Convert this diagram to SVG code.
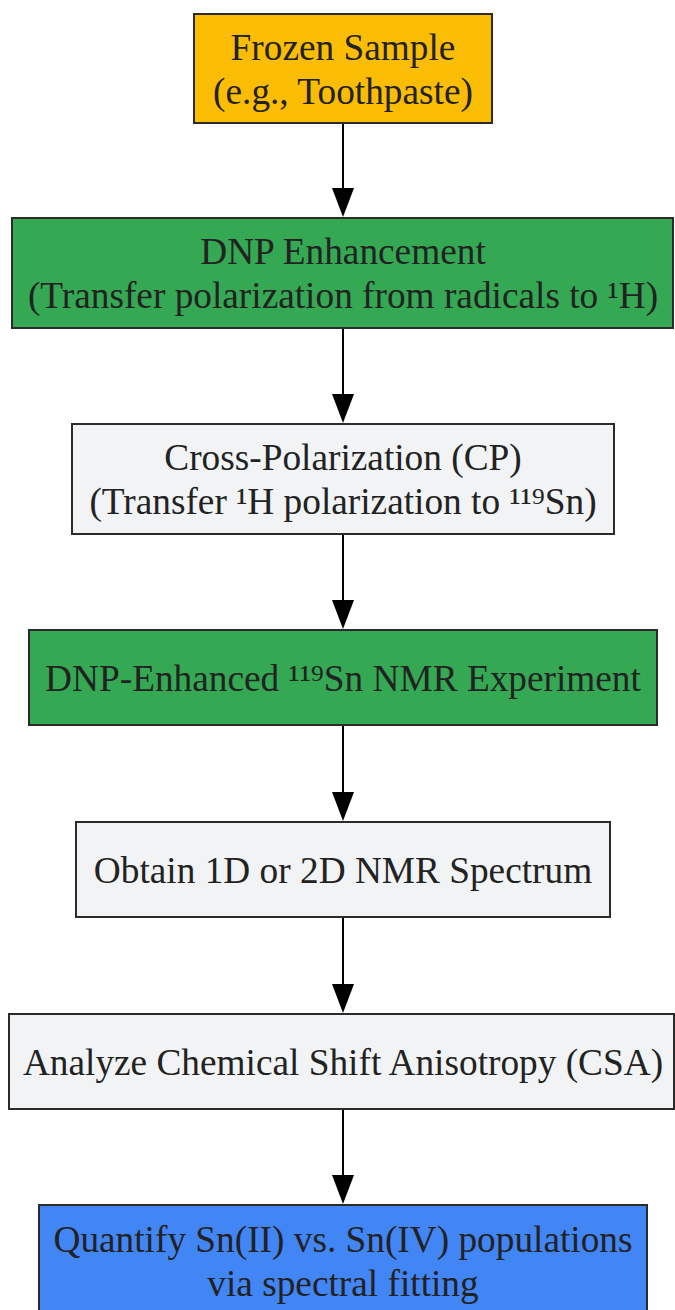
<svg xmlns="http://www.w3.org/2000/svg" width="675" height="1310" viewBox="0 0 675 1310">
<defs>
<style>
.box{stroke:#2b2b2b;stroke-width:2}
.t{font-family:"Liberation Serif","Times New Roman",serif;font-size:37.3px;fill:#222;text-anchor:middle}
.e{stroke:#000;stroke-width:2;fill:none}
</style>
</defs>
<rect width="675" height="1310" fill="#fff"/>
<g id="edges">
<line class="e" x1="343" y1="123" x2="343" y2="195"/>
<path d="M332,188 L354,188 L343,217 z"/>
<line class="e" x1="343" y1="328" x2="343" y2="400"/>
<path d="M332,394 L354,394 L343,423 z"/>
<line class="e" x1="343" y1="534" x2="343" y2="606"/>
<path d="M332,600 L354,600 L343,629 z"/>
<line class="e" x1="343" y1="725" x2="343" y2="797"/>
<path d="M332,792 L354,792 L343,821 z"/>
<line class="e" x1="343" y1="917" x2="343" y2="989"/>
<path d="M332,984 L354,984 L343,1013 z"/>
<line class="e" x1="343" y1="1109" x2="343" y2="1181"/>
<path d="M332,1175 L354,1175 L343,1204 z"/>
</g>
<g id="n1">
<rect class="box" x="194" y="14" width="298" height="109" fill="#FBBC04"/>
<text class="t" x="343" y="60">Frozen Sample</text>
<text class="t" x="343" y="104">(e.g., Toothpaste)</text>
</g>
<g id="n2">
<rect class="box" x="12" y="218" width="661" height="110" fill="#34A853"/>
<text class="t" x="343" y="264">DNP Enhancement</text>
<text class="t" x="343" y="308">(Transfer polarization from radicals to ¹H)</text>
</g>
<g id="n3">
<rect class="box" x="72" y="424" width="542" height="110" fill="#F1F3F4"/>
<text class="t" x="343" y="470">Cross-Polarization (CP)</text>
<text class="t" x="343" y="514">(Transfer ¹H polarization to ¹¹⁹Sn)</text>
</g>
<g id="n4">
<rect class="box" x="29" y="630" width="628" height="95" fill="#34A853"/>
<text class="t" x="343" y="691">DNP-Enhanced ¹¹⁹Sn NMR Experiment</text>
</g>
<g id="n5">
<rect class="box" x="76" y="822" width="534" height="95" fill="#F1F3F4"/>
<text class="t" x="343" y="883">Obtain 1D or 2D NMR Spectrum</text>
</g>
<g id="n6">
<rect class="box" x="9" y="1014" width="665" height="95" fill="#F1F3F4"/>
<text class="t" x="343" y="1075">Analyze Chemical Shift Anisotropy (CSA)</text>
</g>
<g id="n7">
<rect class="box" x="39" y="1205" width="608" height="110" fill="#4285F4"/>
<text class="t" x="343" y="1252">Quantify Sn(II) vs. Sn(IV) populations</text>
<text class="t" x="343" y="1296">via spectral fitting</text>
</g>
</svg>
